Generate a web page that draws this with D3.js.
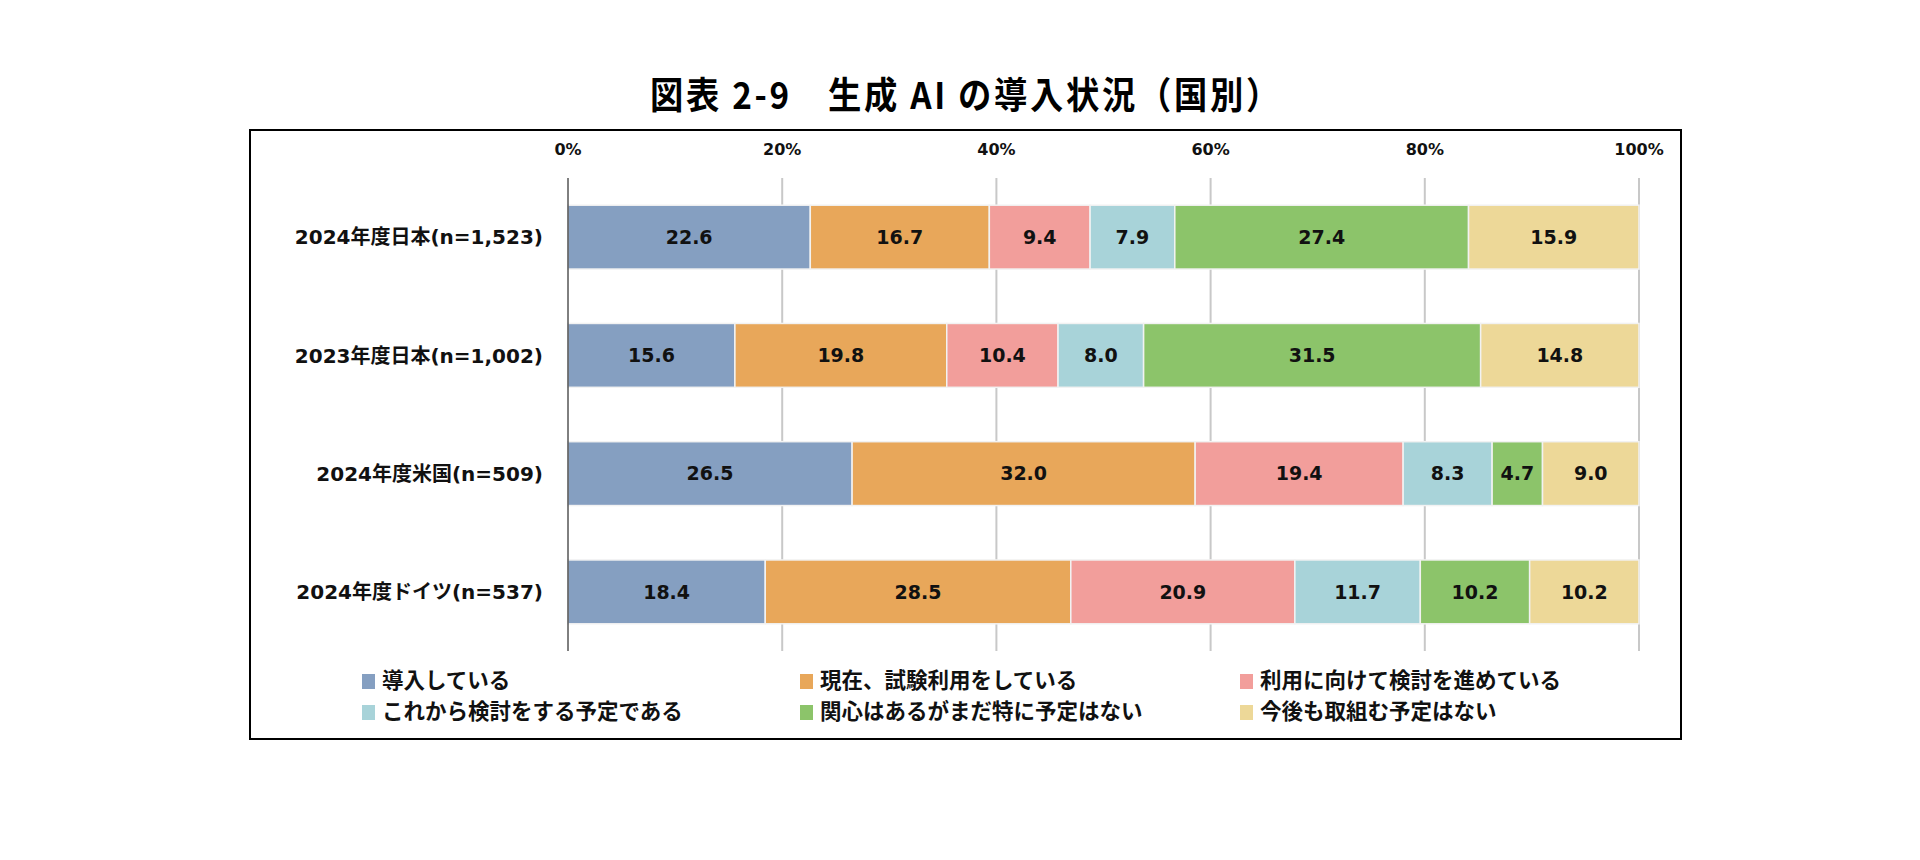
<!DOCTYPE html>
<html>
<head>
<meta charset="utf-8">
<script src="https://cdn.jsdelivr.net/npm/d3@7"></script>
<style>
  body { margin: 0; background: #fff; }
  svg { display: block; }
  text { font-family: "DejaVu Sans", "Noto Sans CJK JP", sans-serif; }
  .title { font-family: "Noto Sans CJK JP", sans-serif; }
</style>
</head>
<body>
<svg width="1920" height="860"></svg>
<script>
const categories = [
	"2024年度日本(n=1,523)",
	"2023年度日本(n=1,002)",
	"2024年度米国(n=509)",
	"2024年度ドイツ(n=537)"
];

const seriesNames = [
	"導入している",
	"現在、試験利用をしている",
	"利用に向けて検討を進めている",
	"これから検討をする予定である",
	"関心はあるがまだ特に予定はない",
	"今後も取組む予定はない"
];

const values = [
	[22.6, 16.7, 9.4, 7.9, 27.4, 15.9],
	[15.6, 19.8, 10.4, 8.0, 31.5, 14.8],
	[26.5, 32.0, 19.4, 8.3, 4.7, 9.0],
	[18.4, 28.5, 20.9, 11.7, 10.2, 10.2]
];

const ticks = [0, 0.2, 0.4, 0.6, 0.8, 1.0];

const colors = ["#859FC1", "#E8A75A", "#F29E9B", "#A8D3D9", "#8CC46A", "#EDD898"];

const svg = d3.select("svg"),
	width = +svg.attr("width"),
	height = +svg.attr("height");

// title
svg.append("text")
	.attr("class", "title")
	.attr("x", 966)
	.attr("y", 109)
	.attr("text-anchor", "middle")
	.attr("font-size", 37)
	.attr("font-weight", "bold")
	.attr("letter-spacing", 3)
	.attr("transform", "translate(966,0) scale(0.9,1) translate(-966,0)")
	.text("図表 2-9　生成 AI の導入状況（国別）");

// frame
svg.append("rect")
	.attr("x", 250)
	.attr("y", 130)
	.attr("width", 1431)
	.attr("height", 609)
	.attr("fill", "none")
	.attr("stroke", "#000")
	.attr("stroke-width", 2);

const x = d3.scaleLinear().domain([0, 1]).range([568, 1639]);
const y = d3.scaleBand().domain(categories).range([178, 651]).paddingInner(0.46).paddingOuter(0.23);

// grid lines
svg.append("g")
	.selectAll("line")
	.data(ticks.slice(1))
	.join("line")
	.attr("x1", d => x(d))
	.attr("x2", d => x(d))
	.attr("y1", 178)
	.attr("y2", 651)
	.attr("stroke", "#c8c8c8")
	.attr("stroke-width", 2);

// tick labels
svg.append("g")
	.selectAll("text")
	.data(ticks)
	.join("text")
	.attr("x", d => x(d))
	.attr("y", 155)
	.attr("text-anchor", "middle")
	.attr("font-size", 16)
	.attr("font-weight", "bold")
	.attr("fill", "#111")
	.text(d => d3.format(".0%")(d));

// stacked rows, normalised to 100%
const rows = values.map((v, i) => {
	const total = d3.sum(v);
	let acc = 0;
	return v.map((val, j) => {
		const x0 = acc / total;
		acc += val;
		return { cat: categories[i], s: j, value: val, x0: x0, x1: acc / total };
	});
}).flat();

svg.append("g")
	.selectAll("rect")
	.data(rows)
	.join("rect")
	.attr("x", d => x(d.x0))
	.attr("y", d => y(d.cat))
	.attr("width", d => x(d.x1) - x(d.x0))
	.attr("height", y.bandwidth())
	.attr("fill", d => colors[d.s])
	.attr("stroke", "#f2f2f2")
	.attr("stroke-width", 1.5);

svg.append("g")
	.selectAll("text")
	.data(rows)
	.join("text")
	.attr("x", d => (x(d.x0) + x(d.x1)) / 2)
	.attr("y", d => y(d.cat) + y.bandwidth() / 2)
	.attr("dy", "0.36em")
	.attr("text-anchor", "middle")
	.attr("font-size", 19)
	.attr("font-weight", "bold")
	.attr("fill", "#111")
	.text(d => d.value.toFixed(1));

// zero axis
svg.append("line")
	.attr("x1", x(0))
	.attr("x2", x(0))
	.attr("y1", 178)
	.attr("y2", 651)
	.attr("stroke", "#000")
	.attr("stroke-width", 1);

// category labels
svg.append("g")
	.selectAll("text")
	.data(categories)
	.join("text")
	.attr("x", 543)
	.attr("y", d => y(d) + y.bandwidth() / 2)
	.attr("dy", "0.36em")
	.attr("text-anchor", "end")
	.attr("font-size", 20)
	.attr("font-weight", "bold")
	.attr("fill", "#111")
	.text(d => d);

// legend
const legendX = [362, 800, 1240];
const legendY = [680, 711];
const legend = svg.append("g")
	.selectAll("g")
	.data(seriesNames)
	.join("g")
	.attr("transform", (d, i) => `translate(${legendX[i % 3]},${legendY[Math.floor(i / 3)]})`);

legend.append("rect")
	.attr("x", 0)
	.attr("y", -6)
	.attr("width", 13)
	.attr("height", 15)
	.attr("fill", (d, i) => colors[i]);

legend.append("text")
	.attr("x", 20)
	.attr("y", 0)
	.attr("dy", "0.36em")
	.attr("font-size", 21.5)
	.attr("font-weight", "bold")
	.attr("fill", "#111")
	.text(d => d);
</script>
</body>
</html>
